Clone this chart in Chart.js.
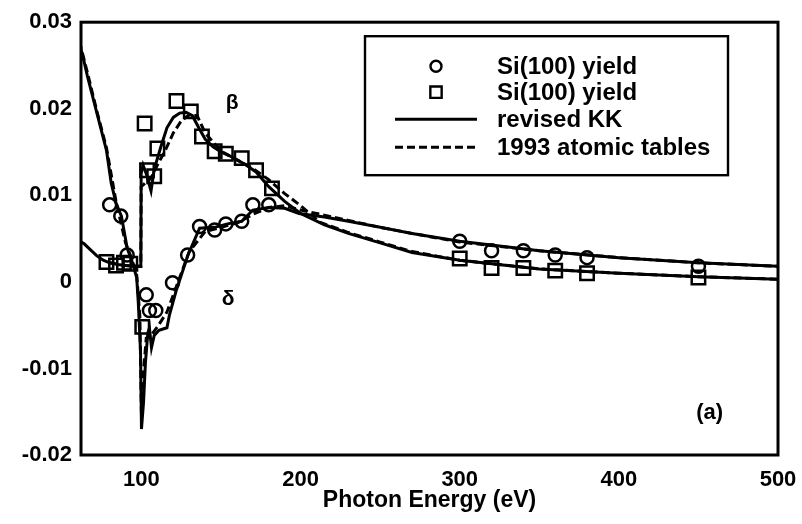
<!DOCTYPE html>
<html>
<head>
<meta charset="utf-8">
<script src="https://cdn.jsdelivr.net/npm/chart.js@4"></script>
<style>
  html, body { margin: 0; background: #fff; }
  #wrap { width: 802px; height: 524px; }
</style>
</head>
<body>
<div id="wrap"><canvas id="chart"></canvas></div>
<script>
// Measured yield points (photon energy in eV)
const circleEnergy = [80, 87, 91, 103, 105, 109, 119.5, 129, 136.5, 146, 153, 163, 170, 180, 300, 320, 340, 360, 380, 450];
const circleValue = [0.0089, 0.0076, 0.0031, -0.0015, -0.0033, -0.0033, -0.0001, 0.0031, 0.0064, 0.006, 0.0067, 0.007, 0.0089, 0.0089, 0.0047, 0.0036, 0.0036, 0.0031, 0.0028, 0.0018];

const squareEnergy = [78, 84, 89, 93, 100.5, 102, 103.5, 108, 110, 122, 131, 138, 146, 153, 163, 172, 182, 300, 320, 340, 360, 380, 450];
const squareValue = [0.0023, 0.0019, 0.0022, 0.0021, -0.0052, 0.0183, 0.0129, 0.0122, 0.0154, 0.0209, 0.0197, 0.0168, 0.0151, 0.0148, 0.0143, 0.0129, 0.0108, 0.0027, 0.0016, 0.0016, 0.0013, 0.001, 0.0005];

// Revised KK curves
const deltaKKEnergy = [61, 63, 66, 72, 78, 81, 84, 87.4, 91, 94, 97, 98, 99.4, 100, 101.3, 102.5, 104, 105, 106.3, 108, 111, 116, 117.6, 122, 129, 136.5, 146, 154, 163, 170, 180, 190, 199, 215, 230, 250, 270, 300, 350, 400, 450, 500];
const deltaKKValue = [0.0275, 0.0262, 0.0238, 0.0195, 0.0152, 0.0114, 0.0091, 0.0076, 0.0039, 0.0024, 0.0005, -0.0024, -0.008, -0.017, -0.0139, -0.0093, -0.0059, -0.0053, -0.0076, -0.0062, -0.0056, -0.0053, -0.0038, -0.0009, 0.003, 0.0062, 0.0063, 0.0067, 0.007, 0.0083, 0.0086, 0.0085, 0.0079, 0.0075, 0.007, 0.0063, 0.0056, 0.0047, 0.0036, 0.0028, 0.0022, 0.0018];

const betaKKEnergy = [61, 64, 68, 72, 76, 80, 85, 90, 95, 99.6, 99.8, 101, 103, 106, 108, 112, 116, 120, 124, 128, 132, 136, 140, 145, 150, 155, 160, 165, 172, 180, 190, 200, 215, 230, 250, 270, 300, 350, 400, 450, 500];
const betaKKValue = [0.0047, 0.0044, 0.0037, 0.003, 0.0025, 0.0022, 0.002, 0.0019, 0.0018, 0.0018, 0.0125, 0.0135, 0.0125, 0.0105, 0.013, 0.0155, 0.0178, 0.019, 0.0195, 0.0196, 0.0192, 0.0178, 0.0165, 0.0156, 0.015, 0.0146, 0.0141, 0.0136, 0.0127, 0.011, 0.0093, 0.0079, 0.0066, 0.0056, 0.0045, 0.0034, 0.0025, 0.0015, 0.001, 0.0006, 0.0003];

// 1993 atomic tables
const deltaTabEnergy = [61, 66, 72, 78, 84, 90, 94, 97, 99, 100, 101, 103, 106, 110, 116, 122, 130, 140, 150, 160, 170, 180, 190, 200, 215, 230, 250, 270, 300, 350, 400, 450, 500];
const deltaTabValue = [0.0278, 0.0242, 0.0197, 0.0155, 0.0093, 0.0045, 0.0026, 0.0008, -0.004, -0.0155, -0.011, -0.0065, -0.0062, -0.0052, -0.0035, -0.0005, 0.0035, 0.0058, 0.0063, 0.0068, 0.0078, 0.0086, 0.0088, 0.0083, 0.0077, 0.0071, 0.0063, 0.0056, 0.0046, 0.0036, 0.0028, 0.0022, 0.0018];

const betaTabEnergy = [80, 90, 99.6, 99.8, 103, 106, 110, 115, 120, 125, 130, 135, 140, 150, 160, 170, 180, 190, 200, 212, 230, 250, 270, 300, 350, 400, 450, 500];
const betaTabValue = [0.0022, 0.0019, 0.0018, 0.011, 0.0115, 0.012, 0.0135, 0.0152, 0.0172, 0.0186, 0.0193, 0.0192, 0.0172, 0.0151, 0.0141, 0.0131, 0.0118, 0.0102, 0.0088, 0.0069, 0.0057, 0.0046, 0.0035, 0.0025, 0.0015, 0.001, 0.0006, 0.0003];

const xTicks = [100, 200, 300, 400, 500];
const legendLabels = ['Si(100) yield', 'Si(100) yield', 'revised KK', '1993 atomic tables'];

const FONT = '"Liberation Sans", Arial, sans-serif';
const toPoints = (xs, ys) => xs.map((x, i) => ({ x, y: ys[i] }));

const lineSet = (xs, ys, dash) => ({
  data: toPoints(xs, ys),
  showLine: true,
  borderColor: '#000',
  borderWidth: 3,
  borderDash: dash,
  pointRadius: 0,
  tension: 0,
  order: 2,
});

const markerSet = (xs, ys, style, radius) => ({
  data: toPoints(xs, ys),
  showLine: false,
  pointStyle: style,
  pointRadius: radius,
  pointBorderWidth: 2.5,
  pointBorderColor: '#000',
  pointBackgroundColor: 'rgba(255,255,255,0)',
  order: 1,
});

// Frame, legend box and curve labels
const decorations = {
  id: 'decorations',
  afterDraw(chart) {
    const { ctx, chartArea: a } = chart;
    ctx.save();
    ctx.strokeStyle = '#000';
    ctx.lineWidth = 3;
    ctx.strokeRect(a.left, a.top, a.right - a.left, a.bottom - a.top);

    // legend
    const bx = a.left + 284, by = a.top + 14;
    ctx.lineWidth = 2.4;
    ctx.strokeRect(bx, by, 363, 139);
    const rows = [30, 56, 83, 111];
    const symX = bx + 71, lineL = bx + 30, lineR = bx + 112, textX = bx + 132;
    ctx.textBaseline = 'middle';
    ctx.textAlign = 'left';
    rows.forEach((dy, i) => {
      const y = by + dy;
      const ds = chart.data.datasets[i];
      if (i < 2) {
        ctx.fillStyle = '#fff';
        ctx.lineWidth = 2.4;
        Chart.helpers.drawPoint(ctx, {
          pointStyle: ds.pointStyle,
          radius: ds.pointStyle === 'rect' ? 8 : 5.5,
          borderWidth: 2.4,
        }, symX, y);
      } else {
        ctx.beginPath();
        ctx.setLineDash(ds.borderDash || []);
        ctx.lineWidth = 3;
        ctx.moveTo(lineL, y);
        ctx.lineTo(lineR, y);
        ctx.stroke();
        ctx.setLineDash([]);
      }
      ctx.fillStyle = '#000';
      ctx.font = `bold 24px ${FONT}`;
      ctx.fillText(legendLabels[i], textX, y + 1);
    });

    // curve labels
    const xs = chart.scales.x, ys = chart.scales.y;
    ctx.fillStyle = '#000';
    ctx.font = `bold 21px ${FONT}`;
    ctx.textAlign = 'center';
    ctx.fillText('β', xs.getPixelForValue(157), ys.getPixelForValue(0.0206));
    ctx.fillText('δ', xs.getPixelForValue(154.5), ys.getPixelForValue(-0.002));
    ctx.font = `bold 22px ${FONT}`;
    ctx.fillText('(a)', xs.getPixelForValue(457), ys.getPixelForValue(-0.0151));
    ctx.restore();
  },
};

new Chart(document.getElementById('chart'), {
  type: 'scatter',
  data: {
    datasets: [
      markerSet(circleEnergy, circleValue, 'circle', 6.5),
      markerSet(squareEnergy, squareValue, 'rect', 9.5),
      lineSet(deltaKKEnergy, deltaKKValue, []),
      lineSet(deltaTabEnergy, deltaTabValue, [8, 4]),
      lineSet(betaKKEnergy, betaKKValue, []),
      lineSet(betaTabEnergy, betaTabValue, [8, 4]),
    ],
  },
  options: {
    responsive: true,
    maintainAspectRatio: false,
    animation: false,
    layout: { padding: { top: 18, right: 24, left: 0, bottom: 0 } },
    plugins: { legend: { display: false }, tooltip: { enabled: false } },
    scales: {
      x: {
        type: 'linear',
        min: 62,
        max: 500,
        afterBuildTicks: (scale) => { scale.ticks = xTicks.map((v) => ({ value: v })); },
        afterFit: (scale) => {
          scale.height = 69;
          scale.paddingLeft = 0;
          scale.paddingRight = 0;
        },
        grid: { display: false, drawTicks: false },
        border: { display: false },
        ticks: { color: '#000', padding: 12, font: { family: FONT, size: 22, weight: 'bold' } },
        title: {
          display: true,
          text: 'Photon Energy (eV)',
          color: '#000',
          padding: { top: 0, bottom: 10 },
          font: { family: FONT, size: 23, weight: 'bold' },
        },
      },
      y: {
        min: -0.02,
        max: 0.03,
        afterFit: (scale) => { scale.width = 81; },
        grid: { display: false, drawTicks: false },
        border: { display: false },
        ticks: {
          stepSize: 0.01,
          color: '#000',
          padding: 9,
          font: { family: FONT, size: 22, weight: 'bold' },
          callback: (v) => {
            const r = Math.round(v * 100) / 100;
            return r === 0 ? '0' : r.toFixed(2);
          },
        },
      },
    },
  },
  plugins: [decorations],
});
</script>
</body>
</html>
